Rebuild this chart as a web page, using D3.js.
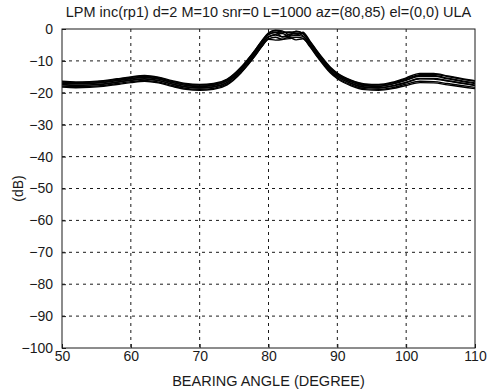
<!DOCTYPE html>
<html>
<head>
<meta charset="utf-8">
<script src="https://cdn.jsdelivr.net/npm/d3@7"></script>
<style>
  body { margin: 0; background: #fff; }
  svg { display: block; font-family: "Liberation Sans", Arial, sans-serif; }
</style>
</head>
<body>
<div id="chart"></div>
<script>
// bearing angle samples (degrees) and one dB series per trial
const angles = [50,52,54,56,58,60,62,64,66,68,70,72,74,76,77,78,79,80,81,82,83,84,85,86,87,88,89,90,92,94,96,98,100,102,104,106,108,110];

const trial1 = [-16.6,-16.8,-16.7,-16.4,-15.8,-15.2,-14.8,-15.3,-16.4,-17.3,-17.6,-17.3,-15.9,-12.1,-9.6,-6.8,-3.8,-1.4,-0.6,-0.9,-1.1,-0.8,-1.3,-3.9,-6.9,-9.7,-12.2,-14.0,-16.2,-17.4,-17.6,-16.9,-15.6,-14.3,-14.2,-14.9,-15.7,-16.4];
const trial2 = [-17.9,-18.1,-18.0,-17.7,-17.1,-16.5,-16.1,-16.6,-17.7,-18.6,-18.9,-18.6,-17.2,-13.6,-11.1,-8.4,-5.5,-3.1,-2.6,-3.2,-3.0,-2.6,-2.9,-5.3,-8.3,-11.0,-13.5,-15.3,-17.5,-18.7,-18.9,-18.4,-17.3,-16.4,-16.5,-17.1,-17.7,-18.3];
const trial3 = [-17.0,-17.2,-17.1,-16.8,-16.2,-15.6,-15.2,-15.7,-16.8,-17.7,-18.0,-17.7,-16.3,-12.6,-10.0,-7.3,-4.3,-1.8,-1.0,-2.5,-2.2,-0.7,-1.4,-4.2,-7.2,-10.0,-12.5,-14.4,-16.6,-17.8,-18.0,-17.3,-16.1,-14.8,-14.8,-15.6,-16.4,-17.1];
const trial4 = [-17.5,-17.7,-17.6,-17.3,-16.7,-16.1,-15.7,-16.2,-17.3,-18.2,-18.5,-18.2,-16.8,-13.1,-10.6,-7.9,-4.9,-2.5,-1.7,-1.4,-2.3,-2.0,-2.3,-4.8,-7.8,-10.6,-13.1,-14.9,-17.1,-18.3,-18.5,-17.9,-16.8,-15.6,-15.7,-16.3,-17.0,-17.7];
const trial5 = [-16.9,-17.1,-17.0,-16.7,-16.1,-15.5,-15.1,-15.6,-16.7,-17.6,-17.9,-17.6,-16.2,-12.5,-10.0,-7.3,-4.2,-1.7,-1.1,-1.2,-0.9,-1.5,-1.5,-4.2,-7.2,-10.0,-12.5,-14.3,-16.5,-17.7,-17.9,-17.2,-15.9,-14.6,-14.6,-15.4,-16.2,-16.9];
const trial6 = [-17.4,-17.6,-17.5,-17.2,-16.6,-16.0,-15.6,-16.1,-17.2,-18.1,-18.4,-18.1,-16.7,-13.0,-10.5,-7.8,-4.8,-2.4,-1.9,-2.4,-1.6,-1.2,-2.1,-4.7,-7.7,-10.5,-13.0,-14.8,-17.0,-18.2,-18.4,-17.8,-16.7,-15.5,-15.5,-16.2,-16.9,-17.6];
const trial7 = [-16.4,-16.6,-16.5,-16.2,-15.6,-15.0,-14.6,-15.1,-16.2,-17.1,-17.4,-17.1,-15.7,-12.0,-9.5,-6.8,-3.8,-1.2,-0.4,-0.6,-1.8,-1.9,-1.0,-3.7,-6.7,-9.5,-12.0,-13.8,-16.0,-17.2,-17.4,-16.7,-15.3,-13.9,-13.9,-14.7,-15.5,-16.2];
const trial8 = [-18.2,-18.4,-18.3,-18.0,-17.4,-16.8,-16.4,-16.9,-18.0,-18.9,-19.2,-18.9,-17.5,-13.8,-11.3,-8.6,-5.6,-3.2,-3.5,-3.3,-2.6,-3.4,-3.1,-5.5,-8.5,-11.3,-13.8,-15.6,-17.8,-19.0,-19.2,-18.7,-17.7,-16.8,-16.9,-17.5,-18.1,-18.7];
const trials = [trial1, trial2, trial3, trial4, trial5, trial6, trial7, trial8];

const xTicks = [50, 60, 70, 80, 90, 100, 110];
const yTicks = [0, -10, -20, -30, -40, -50, -60, -70, -80, -90, -100];

const titleText = "LPM inc(rp1) d=2 M=10 snr=0 L=1000 az=(80,85) el=(0,0) ULA";
const xLabel = "BEARING ANGLE (DEGREE)";
const yLabel = "(dB)";

drawChart();

function drawChart() {
  const width = 489, height = 392;
  const margin = {top: 29, right: 14, bottom: 44, left: 62};
  const ink = "#1a1a1a";

  const x = d3.scaleLinear([50, 110], [margin.left, width - margin.right]);
  const y = d3.scaleLinear([-100, 0], [height - margin.bottom, margin.top]);

  const svg = d3.select("#chart").append("svg")
      .attr("width", width)
      .attr("height", height)
      .attr("viewBox", [0, 0, width, height]);

  // dashed grid
  svg.append("g")
    .selectAll("line")
    .data(xTicks.slice(1, -1))
    .join("line")
      .attr("x1", d => x(d)).attr("x2", d => x(d))
      .attr("y1", y(0)).attr("y2", y(-100))
      .attr("stroke", ink).attr("stroke-width", 1)
      .attr("stroke-dasharray", "3,4");

  svg.append("g")
    .selectAll("line")
    .data(yTicks.slice(1, -1))
    .join("line")
      .attr("x1", x(50)).attr("x2", x(110))
      .attr("y1", d => y(d)).attr("y2", d => y(d))
      .attr("stroke", ink).attr("stroke-width", 1)
      .attr("stroke-dasharray", "3,4");

  // trial curves
  const line = d3.line()
      .x((d, i) => x(angles[i]))
      .y(d => y(d))
      .curve(d3.curveMonotoneX);

  svg.append("g")
    .selectAll("path")
    .data(trials)
    .join("path")
      .attr("d", line)
      .attr("fill", "none")
      .attr("stroke", "#000")
      .attr("stroke-width", 1.4);

  // axes, ticks inward like matlab
  svg.append("g")
      .attr("transform", `translate(0,${y(-100)})`)
      .call(d3.axisBottom(x).tickValues(xTicks).tickSize(-4).tickPadding(3))
      .call(g => g.select(".domain").remove())
      .call(g => g.selectAll("line").attr("stroke", ink))
      .call(g => g.selectAll("text").attr("font-size", 14).attr("fill", ink));

  svg.append("g")
      .attr("transform", `translate(${x(50)},0)`)
      .call(d3.axisLeft(y).tickValues(yTicks).tickSize(-4).tickPadding(9))
      .call(g => g.select(".domain").remove())
      .call(g => g.selectAll("line").attr("stroke", ink))
      .call(g => g.selectAll("text").attr("font-size", 14).attr("fill", ink));

  // frame
  svg.append("rect")
      .attr("x", x(50)).attr("y", y(0))
      .attr("width", x(110) - x(50))
      .attr("height", y(-100) - y(0))
      .attr("fill", "none")
      .attr("stroke", ink)
      .attr("stroke-width", 1);

  svg.append("text")
      .attr("x", (x(50) + x(110)) / 2)
      .attr("y", 17)
      .attr("text-anchor", "middle")
      .attr("font-size", 14.5)
      .attr("fill", ink)
      .text(titleText);

  svg.append("text")
      .attr("x", (x(50) + x(110)) / 2)
      .attr("y", 386)
      .attr("text-anchor", "middle")
      .attr("font-size", 14.5)
      .attr("fill", ink)
      .text(xLabel);

  svg.append("text")
      .attr("transform", `translate(23,${(y(0) + y(-100)) / 2}) rotate(-90)`)
      .attr("text-anchor", "middle")
      .attr("font-size", 14)
      .attr("fill", ink)
      .text(yLabel);
}
</script>
</body>
</html>
